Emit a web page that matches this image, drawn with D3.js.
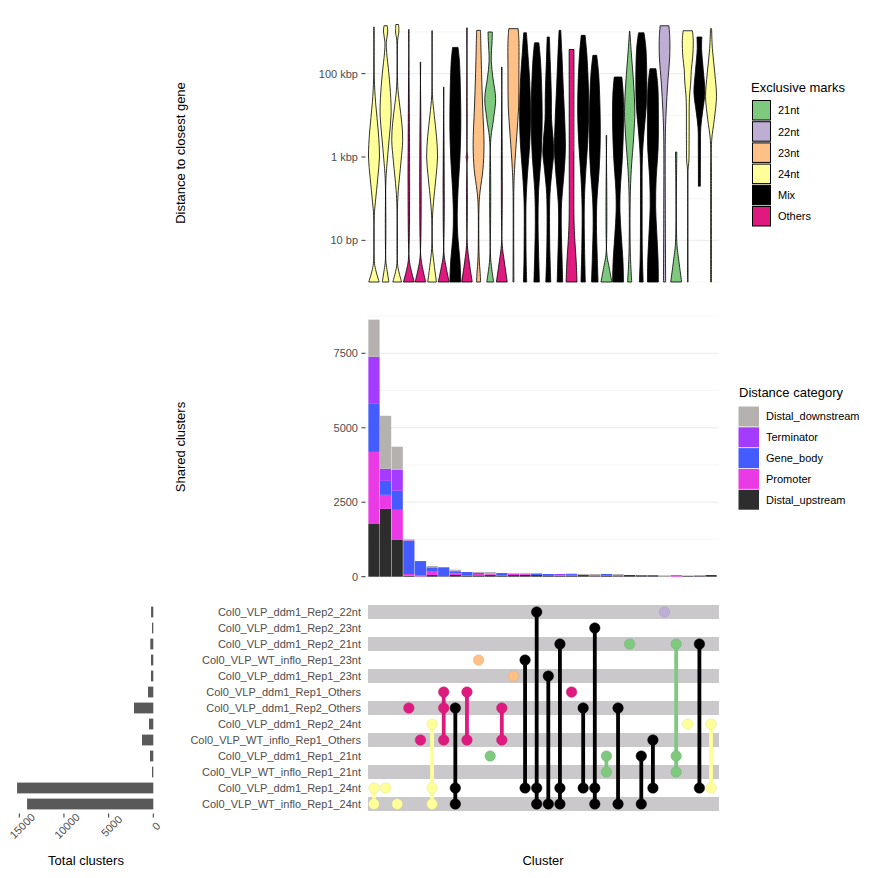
<!DOCTYPE html>
<html><head><meta charset="utf-8">
<script src="https://cdn.jsdelivr.net/npm/d3@7"></script>
<style>body{margin:0;background:#fff} text{font-family:"Liberation Sans",Arial,Helvetica,sans-serif}</style>
</head><body><svg id="c" width="878" height="878"></svg>
<script>
// ---------------- DATA ----------------
const sets = ["Col0_VLP_ddm1_Rep2_22nt","Col0_VLP_ddm1_Rep2_23nt","Col0_VLP_ddm1_Rep2_21nt","Col0_VLP_WT_inflo_Rep1_23nt","Col0_VLP_ddm1_Rep1_23nt","Col0_VLP_ddm1_Rep1_Others","Col0_VLP_ddm1_Rep2_Others","Col0_VLP_ddm1_Rep2_24nt","Col0_VLP_WT_inflo_Rep1_Others","Col0_VLP_ddm1_Rep1_21nt","Col0_VLP_WT_inflo_Rep1_21nt","Col0_VLP_ddm1_Rep1_24nt","Col0_VLP_WT_inflo_Rep1_24nt"];
const totalClusters = [250,145,335,257,257,593,2160,480,1264,370,145,15250,14130];
const totalTicks = [15000,10000,5000,0];

// members (row indices) of each intersection column, left to right
const intersections = [[11,12],[11],[12],[6],[8],[7,11,12],[5,6,8],[6,11,12],[5,8],[3],[9],[6,8],[4],[3,11],[0,11,12],[4,12],[2,11,12],[5],[6,11],[1,11,12],[9,10],[6,12],[2],[9,12],[8,11],[0],[2,9,10],[7],[2,11],[7,11]];
const exclusiveMark = ["24nt","24nt","24nt","Others","Others","24nt","Others","Mix","Others","23nt","21nt","Others","23nt","Mix","Mix","Mix","Mix","Others","Mix","Mix","21nt","Mix","21nt","Mix","Mix","22nt","21nt","24nt","Mix","24nt"];
const markCategories = ["21nt","22nt","23nt","24nt","Mix","Others"];

// Shared clusters by distance category (stacked)
const distanceCategories = ["Distal_upstream","Promoter","Gene_body","Terminator","Distal_downstream"];
const distalUpstream   = [1770,2277,1234,35,10,55,15,57,35,45,55,35,55,65,55,45,35,25,55,20,35,20,55,22,22,12,0,22,20,55];
const promoter         = [2420,470,1010,55,25,135,0,55,0,45,30,0,45,35,0,0,20,35,0,35,0,35,0,0,0,0,35,0,25,0];
const geneBody         = [1615,470,640,1110,490,115,290,68,122,33,0,88,0,0,35,45,0,30,0,0,55,0,0,33,33,0,22,0,0,0];
const terminator       = [1580,405,705,20,0,15,20,22,0,0,0,0,0,0,0,0,35,10,0,0,0,0,0,0,0,0,0,0,0,0];
const distalDownstream = [1245,1780,775,35,0,40,0,33,0,34,72,0,25,25,33,0,0,0,35,35,0,35,0,0,0,33,0,22,0,0];
const sharedTicks = [0,2500,5000,7500];

// Distance to closest gene: violin density profiles, [log10(bp), relative density]
const violinProfiles = [
 [[6.12,0.05],[4.9,0.06],[4.3,0.3],[3.6,0.8],[3.0,1.0],[2.5,0.7],[1.9,0.25],[1.6,0.06],[0.5,0.06],[0.3,0.3],[0,0.95]],
 [[6.15,0.3],[6.0,0.38],[5.75,0.12],[5.5,0.2],[5.0,0.6],[4.4,0.95],[4.0,1.0],[3.5,0.7],[2.9,0.3],[2.4,0.05],[0.5,0.05],[0.3,0.25],[0,0.6]],
 [[6.18,0.25],[6.0,0.3],[5.8,0.08],[4.7,0.1],[4.3,0.4],[3.8,0.85],[3.4,1.0],[2.9,0.7],[2.2,0.2],[1.8,0.05],[0.45,0.05],[0.25,0.3],[0,0.8]],
 [[6.06,0.04],[0.6,0.04],[0.3,0.4],[0,1.0]],
 [[5.28,0.04],[0.65,0.04],[0.3,0.45],[0,0.97]],
 [[6.03,0.05],[4.5,0.06],[4.0,0.4],[3.5,0.8],[3.0,1.0],[2.5,0.7],[1.9,0.25],[1.5,0.06],[0.8,0.08],[0.4,0.4],[0,0.8]],
 [[4.68,0.04],[0.7,0.05],[0.35,0.45],[0,1.0]],
 [[5.63,0.5],[5.3,0.75],[4.5,0.95],[3.7,1.0],[3.0,0.85],[2.2,0.5],[1.6,0.35],[1.1,0.45],[0.5,0.85],[0,1.0]],
 [[6.1,0.04],[3.1,0.04],[3.0,0.15],[2.9,0.04],[0.95,0.05],[0.5,0.4],[0,0.97]],
 [[6.04,0.35],[5.8,0.4],[5.0,0.55],[4.2,0.75],[3.3,1.0],[2.7,0.8],[2.2,0.3],[1.9,0.1],[0.6,0.1],[0.2,0.3],[0,0.38]],
 [[6.0,0.4],[5.8,0.35],[5.3,0.2],[4.9,0.5],[4.4,1.0],[3.9,0.6],[3.35,0.07],[0.6,0.07],[0.3,0.3],[0,0.63]],
 [[5.16,0.04],[0.95,0.05],[0.5,0.45],[0,1.0]],
 [[6.08,0.85],[5.8,1.0],[5.0,1.0],[4.2,0.95],[3.5,0.6],[2.7,0.2],[2.15,0.07],[0,0.08]],
 [[5.98,0.25],[5.6,0.45],[4.8,0.85],[4.0,1.0],[3.3,0.85],[2.6,0.45],[2.0,0.2],[1.6,0.15],[0.5,0.2],[0,0.3]],
 [[5.74,0.4],[5.3,0.7],[4.5,0.95],[3.8,1.0],[3.0,0.8],[2.2,0.35],[1.4,0.25],[0.7,0.35],[0,0.5]],
 [[5.88,0.2],[5.3,0.35],[4.5,0.55],[3.9,0.6],[3.4,0.9],[3.1,1.0],[2.7,0.7],[2.1,0.3],[1.0,0.25],[0,0.45]],
 [[6.04,0.15],[5.5,0.35],[4.7,0.6],[3.8,0.9],[3.2,1.0],[2.6,0.75],[1.9,0.3],[1.3,0.25],[0.5,0.4],[0,0.5]],
 [[5.58,0.45],[3.0,0.43],[1.5,0.45],[1.0,0.6],[0.5,0.85],[0,1.0]],
 [[5.92,0.35],[5.5,0.65],[4.7,0.95],[4.0,1.0],[3.3,0.8],[2.5,0.4],[1.8,0.2],[0.8,0.25],[0,0.4]],
 [[5.44,0.35],[5.0,0.7],[4.2,0.95],[3.4,1.0],[2.7,0.8],[2.0,0.4],[1.4,0.3],[0.6,0.45],[0,0.6]],
 [[3.52,0.05],[0.7,0.06],[0.35,0.5],[0,1.0]],
 [[4.92,0.7],[4.5,0.95],[3.8,1.0],[3.0,0.8],[2.2,0.4],[1.7,0.35],[1.1,0.6],[0.5,0.9],[0,1.0]],
 [[6.02,0.03],[5.5,0.3],[4.8,0.7],[4.1,0.95],[3.5,0.75],[2.7,0.3],[2.0,0.1],[0.7,0.12],[0,0.38]],
 [[5.98,0.5],[5.6,0.85],[4.8,1.0],[4.2,0.9],[3.6,0.5],[3.0,0.2],[2.0,0.15],[0.6,0.2],[0,0.35]],
 [[5.12,0.55],[4.7,0.9],[4.0,1.0],[3.2,0.95],[2.5,0.6],[1.8,0.5],[1.2,0.7],[0.5,0.95],[0,1.0]],
 [[6.15,0.8],[5.9,0.95],[5.4,0.95],[4.8,0.6],[4.1,0.3],[3.5,0.15],[1.5,0.15],[0,0.2]],
 [[3.12,0.12],[0.95,0.12],[0.5,0.5],[0,1.0]],
 [[6.03,0.85],[5.8,1.0],[5.4,0.9],[5.1,0.65],[4.8,0.55],[4.4,0.3],[3.5,0.25],[2.9,0.2],[2.7,0.06],[0,0.06]],
 [[5.88,0.45],[5.6,0.4],[5.1,0.7],[4.55,1.0],[4.1,0.6],[3.7,0.25],[3.2,0.2],[2.3,0.18]],
 [[6.08,0.1],[5.6,0.25],[5.0,0.7],[4.45,1.0],[3.9,0.6],[3.4,0.12],[2.5,0.08],[0,0.08]]
];
const distanceTicks = [[1,"10 bp"],[3,"1 kbp"],[5,"100 kbp"]];

// ---------------- STYLE ----------------
const markColor = {"21nt":"#7FC97F","22nt":"#BEAED4","23nt":"#FDC086","24nt":"#FFFF99","Mix":"#000000","Others":"#DE1A7E"};
const distColor = {"Distal_upstream":"#2D2D2D","Promoter":"#EA3AE5","Gene_body":"#435BFF","Terminator":"#A53BFF","Distal_downstream":"#B5B1AE"};

const svg = d3.select("#c");
const n = intersections.length;
const x = d3.scalePoint().domain(d3.range(n)).range([367,718]).padding(0.6);
const step = x.step();
const panelL = 367, panelR = 719;

// ---------------- VIOLIN PANEL ----------------
const yV = d3.scaleLinear().domain([0,6.24]).range([282,22]);
const w = d3.scaleLinear().domain([0,1]).range([0, step*0.47]);
const gV = svg.append("g");
d3.range(0,7).forEach(v=>{
  gV.append("line").attr("x1",panelL).attr("x2",panelR).attr("y1",yV(v)).attr("y2",yV(v))
    .attr("stroke", v%2===1 ? "#e6e6e6" : "#f0f0f0").attr("stroke-width", v%2===1?0.8:0.6);
});
const area = d3.area().curve(d3.curveCatmullRom.alpha(0.5));
violinProfiles.forEach((prof,i)=>{
  const cx = x(i);
  area.y(d=>yV(d[0])).x0(d=>cx - w(d[1])).x1(d=>cx + w(d[1]));
  gV.append("path").attr("d", area(prof)).attr("fill", markColor[exclusiveMark[i]])
    .attr("stroke","#000").attr("stroke-width",0.8).attr("stroke-linejoin","round");
});
distanceTicks.forEach(([v,l])=>{
  gV.append("line").attr("x1",361.5).attr("x2",365.5).attr("y1",yV(v)).attr("y2",yV(v)).attr("stroke","#333").attr("stroke-width",1);
  gV.append("text").attr("x",358).attr("y",yV(v)).attr("dy","0.35em").attr("text-anchor","end")
    .attr("font-size",11).attr("fill","#4d4d4d").text(l);
});
svg.append("text").attr("transform","translate(185,153) rotate(-90)").attr("text-anchor","middle")
  .attr("font-size",13).attr("fill","#000").text("Distance to closest gene");

// ---------------- STACKED BAR PANEL ----------------
const yB = d3.scaleLinear().domain([0,7500]).range([576.7,353.3]);
const gB = svg.append("g");
[0,1250,2500,3750,5000,6250,7500,8750].forEach(v=>{
  gB.append("line").attr("x1",panelL).attr("x2",panelR).attr("y1",yB(v)).attr("y2",yB(v))
    .attr("stroke", v%2500===0 ? "#e6e6e6" : "#f0f0f0").attr("stroke-width", v%2500===0?0.8:0.6);
});
const seriesArrays = {"Distal_upstream":distalUpstream,"Promoter":promoter,"Gene_body":geneBody,"Terminator":terminator,"Distal_downstream":distalDownstream};
const table = d3.range(n).map(i=>{const o={i}; distanceCategories.forEach(k=>o[k]=seriesArrays[k][i]); return o;});
const stacked = d3.stack().keys(distanceCategories)(table);
stacked.forEach(s=>{
  gB.selectAll(null).data(s).enter().append("rect")
    .attr("x",d=>x(d.data.i)-step/2+0.2).attr("width",step-0.4)
    .attr("y",d=>yB(d[1])).attr("height",d=>Math.max(0,yB(d[0])-yB(d[1])))
    .attr("fill",distColor[s.key]);
});
sharedTicks.forEach(v=>{
  gB.append("line").attr("x1",361.5).attr("x2",365.5).attr("y1",yB(v)).attr("y2",yB(v)).attr("stroke","#333").attr("stroke-width",1);
  gB.append("text").attr("x",358).attr("y",yB(v)).attr("dy","0.35em").attr("text-anchor","end")
    .attr("font-size",11).attr("fill","#4d4d4d").text(v);
});
svg.append("text").attr("transform","translate(185,447) rotate(-90)").attr("text-anchor","middle")
  .attr("font-size",13).attr("fill","#000").text("Shared clusters");

// ---------------- MATRIX ----------------
const yM = d3.scalePoint().domain(d3.range(sets.length)).range([612,804]);
const gM = svg.append("g");
sets.forEach((s,r)=>{
  if(r%2===0) gM.append("rect").attr("x",368).attr("width",351).attr("y",yM(r)-7).attr("height",14).attr("fill","#CAC8CB");
  gM.append("text").attr("x",361).attr("y",yM(r)).attr("dy","0.35em").attr("text-anchor","end")
    .attr("font-size",11).attr("fill","#4d4d4d").text(s);
});
intersections.forEach((mem,i)=>{
  const c = markColor[exclusiveMark[i]];
  if(mem.length>1){
    gM.append("line").attr("x1",x(i)).attr("x2",x(i)).attr("y1",yM(d3.min(mem))).attr("y2",yM(d3.max(mem)))
      .attr("stroke",c).attr("stroke-width",3.8);
  }
  mem.forEach(r=>{
    gM.append("circle").attr("cx",x(i)).attr("cy",yM(r)).attr("r",5.3).attr("fill",c)
      .attr("stroke", exclusiveMark[i]==="Mix" ? "#000" : d3.color(c).darker(0.4)).attr("stroke-width",0.4);
  });
});
svg.append("text").attr("x",543).attr("y",865).attr("text-anchor","middle").attr("font-size",13).attr("fill","#000").text("Cluster");

// ---------------- TOTAL CLUSTERS ----------------
const xL = d3.scaleLinear().domain([0,15000]).range([153.3,19.3]);
const gL = svg.append("g");
totalClusters.forEach((v,r)=>{
  gL.append("rect").attr("x",xL(v)).attr("width",xL(0)-xL(v)).attr("y",yM(r)-5.4).attr("height",10.8).attr("fill","#595959");
});
totalTicks.forEach(v=>{
  gL.append("line").attr("x1",xL(v)).attr("x2",xL(v)).attr("y1",813.5).attr("y2",817.5).attr("stroke","#333").attr("stroke-width",1);
  gL.append("text").attr("transform",`translate(${xL(v)+3},826) rotate(-45)`).attr("text-anchor","middle").attr("dy","0.35em")
    .attr("font-size",11).attr("fill","#4d4d4d").text(v);
});
svg.append("text").attr("x",86).attr("y",865).attr("text-anchor","middle").attr("font-size",13).attr("fill","#000").text("Total clusters");

// ---------------- LEGENDS ----------------
const lg1 = svg.append("g");
lg1.append("text").attr("x",751).attr("y",91.5).attr("font-size",13).attr("fill","#000").text("Exclusive marks");
markCategories.forEach((m,i)=>{
  const y0 = 100.5 + i*21.2;
  lg1.append("rect").attr("x",752.5).attr("y",y0).attr("width",18).attr("height",19.5).attr("fill",markColor[m]).attr("stroke","#000").attr("stroke-width",1);
  lg1.append("text").attr("x",778).attr("y",y0+10).attr("dy","0.35em").attr("font-size",11).attr("fill","#000").text(m);
});
const lg2 = svg.append("g");
lg2.append("text").attr("x",739).attr("y",397).attr("font-size",13).attr("fill","#000").text("Distance category");
distanceCategories.slice().reverse().forEach((k,i)=>{
  const y0 = 406.5 + i*20.8;
  lg2.append("rect").attr("x",738.5).attr("y",y0).attr("width",20.5).attr("height",20).attr("fill",distColor[k]);
  lg2.append("text").attr("x",766).attr("y",y0+10).attr("dy","0.35em").attr("font-size",11).attr("fill","#000").text(k);
});
</script></body></html>
